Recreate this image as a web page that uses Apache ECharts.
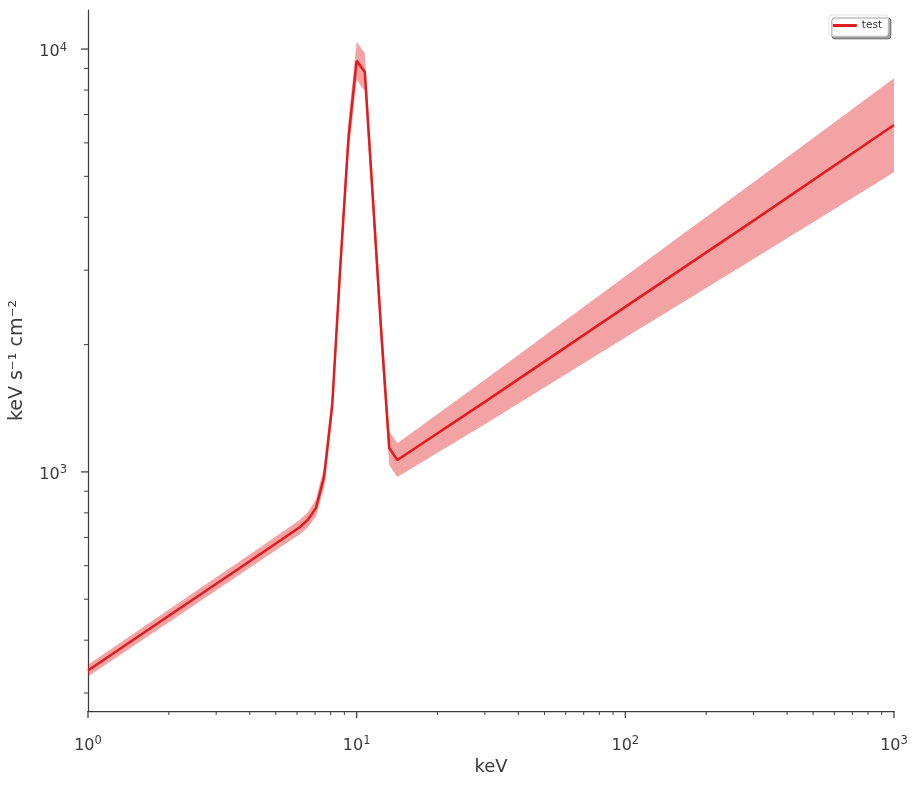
<!DOCTYPE html>
<html>
<head>
<meta charset="utf-8">
<script src="https://cdn.jsdelivr.net/npm/echarts@6/dist/echarts.min.js"></script>
<style>
html,body{margin:0;padding:0;background:#fff;}
#chart{width:919px;height:786px;}
</style>
</head>
<body>
<div id="chart"></div>
<script>
// ---- data ----
const seriesName = 'test';
const energy   = [1, 2, 4, 6.136, 6.58, 7.055, 7.565, 8.111, 8.697, 9.326, 10, 10.72, 11.5, 12.33, 13.22, 14.17, 30, 100, 300, 1000];
const flux     = [339, 457, 615, 740, 770, 822, 973, 1440, 3084, 6194, 9380, 8826, 4395, 2167, 1139, 1067, 1464, 2456, 3929, 6610];
const fluxLow  = [328, 441, 593, 712, 739, 785, 918, 1344, 2847, 5649, 8460, 7960, 3982, 1967, 1039, 973, 1297, 2078, 3187, 5116];
const fluxHigh = [350, 473, 638, 770, 803, 861, 1031, 1543, 3341, 6791, 10400, 9790, 4851, 2388, 1248, 1169, 1652, 2903, 4844, 8536];

const xMajorTicks = [1, 10, 100, 1000];
const xMinorTicks = [2,3,4,5,6,7,8,9,20,30,40,50,60,70,80,90,200,300,400,500,600,700,800,900];
const yMajorTicks = [1000, 10000];
const yMinorTicks = [300,400,500,600,700,800,900,2000,3000,4000,5000,6000,7000,8000,9000];

const xMin = 1, xMax = 1000, yMin = 272, yMax = 12370;
const axisColor = '#3c3c3c';
const textColor = '#3a3a3a';
const lineColor = '#e41a1c';
const bandColor = 'rgba(228,26,28,0.4)';

const chart = echarts.init(document.getElementById('chart'), null, {renderer: 'canvas'});

function powLabel(v) {
  const lg = Math.log10(v);
  const e = Math.round(lg);
  if (Math.abs(lg - e) > 1e-6) return '';
  return '{b|10}{s|' + e + '}';
}
const labelRich = {
  b: {fontSize: 16, color: textColor, fontFamily: 'DejaVu Sans'},
  s: {fontSize: 11.5, color: textColor, fontFamily: 'DejaVu Sans', verticalAlign: 'bottom', padding: [0, 0, 9, 0]}
};

const bandData = energy.map((e, i) => [e, fluxLow[i], fluxHigh[i]]);
const lineData = energy.map((e, i) => [e, flux[i]]);
const xTickData = xMajorTicks.map(v => [v, yMin, 1]).concat(xMinorTicks.map(v => [v, yMin, 0]));
const yTickData = yMajorTicks.map(v => [xMin, v, 1]).concat(yMinorTicks.map(v => [xMin, v, 0]));

const option = {
  backgroundColor: '#fff',
  animation: false,
  textStyle: {fontFamily: 'DejaVu Sans'},
  grid: {left: 88, right: 25, top: 10, bottom: 75, containLabel: false, outerBoundsMode: 'none'},
  legend: {
    right: 31, top: 15,
    data: [{name: seriesName, icon: 'rect'}],
    itemWidth: 24, itemHeight: 3,
    padding: [5, 6, 5, 4],
    itemGap: 5,
    backgroundColor: '#fff',
    borderColor: '#e0e0e0', borderWidth: 1, borderRadius: 3,
    shadowColor: 'rgba(0,0,0,0.38)', shadowBlur: 0, shadowOffsetX: 3, shadowOffsetY: 3,
    textStyle: {fontSize: 10.5, color: '#333', fontFamily: 'DejaVu Sans'}
  },
  xAxis: {
    type: 'log', logBase: 10, min: xMin, max: xMax,
    name: 'keV', nameLocation: 'middle', nameGap: 46,
    nameTextStyle: {fontSize: 18, color: textColor, fontFamily: 'DejaVu Sans'},
    axisLine: {show: true, lineStyle: {color: axisColor, width: 1.25}},
    axisTick: {show: false},
    splitLine: {show: false},
    minorTick: {show: false},
    axisLabel: {show: true, margin: 24, formatter: powLabel, rich: labelRich, showMinLabel: true, showMaxLabel: true, hideOverlap: false}
  },
  yAxis: {
    type: 'log', logBase: 10, min: yMin, max: yMax,
    name: 'keV s\u207B\u00B9 cm\u207B\u00B2', nameLocation: 'middle', nameGap: 61, nameRotate: 90,
    nameTextStyle: {fontSize: 19, color: textColor, fontFamily: 'DejaVu Sans'},
    axisLine: {show: true, lineStyle: {color: axisColor, width: 1.25}},
    axisTick: {show: false},
    splitLine: {show: false},
    minorTick: {show: false},
    axisLabel: {show: true, margin: 21, padding: [6, 0, 0, 0], formatter: powLabel, rich: labelRich, hideOverlap: false}
  },
  series: [
    {
      name: 'band', type: 'custom', silent: true, clip: true, z: 1,
      data: bandData,
      renderItem: function (params, api) {
        if (params.dataIndex !== 0) return null;
        const pts = [];
        for (let i = 0; i < bandData.length; i++) pts.push(api.coord([bandData[i][0], bandData[i][1]]));
        for (let i = bandData.length - 1; i >= 0; i--) pts.push(api.coord([bandData[i][0], bandData[i][2]]));
        return {type: 'polygon', shape: {points: pts}, style: {fill: bandColor, stroke: null}};
      }
    },
    {
      name: seriesName, type: 'line', z: 3,
      data: lineData,
      showSymbol: false, symbol: 'none',
      lineStyle: {color: lineColor, width: 2.5},
      itemStyle: {color: lineColor}
    },
    {
      name: 'xticks', type: 'custom', silent: true, clip: false, z: 5,
      data: xTickData,
      renderItem: function (params, api) {
        const p = api.coord([api.value(0), api.value(1)]);
        const major = api.value(2) === 1;
        const len = major ? 7 : 4;
        return {type: 'line', shape: {x1: p[0], y1: p[1], x2: p[0], y2: p[1] + len},
          style: {stroke: axisColor, lineWidth: major ? 1.25 : 1}};
      }
    },
    {
      name: 'yticks', type: 'custom', silent: true, clip: false, z: 5,
      data: yTickData,
      renderItem: function (params, api) {
        const p = api.coord([api.value(0), api.value(1)]);
        const major = api.value(2) === 1;
        const len = major ? 7 : 4;
        return {type: 'line', shape: {x1: p[0], y1: p[1], x2: p[0] - len, y2: p[1]},
          style: {stroke: axisColor, lineWidth: major ? 1.25 : 1}};
      }
    }
  ]
};
chart.setOption(option);
</script>
</body>
</html>
